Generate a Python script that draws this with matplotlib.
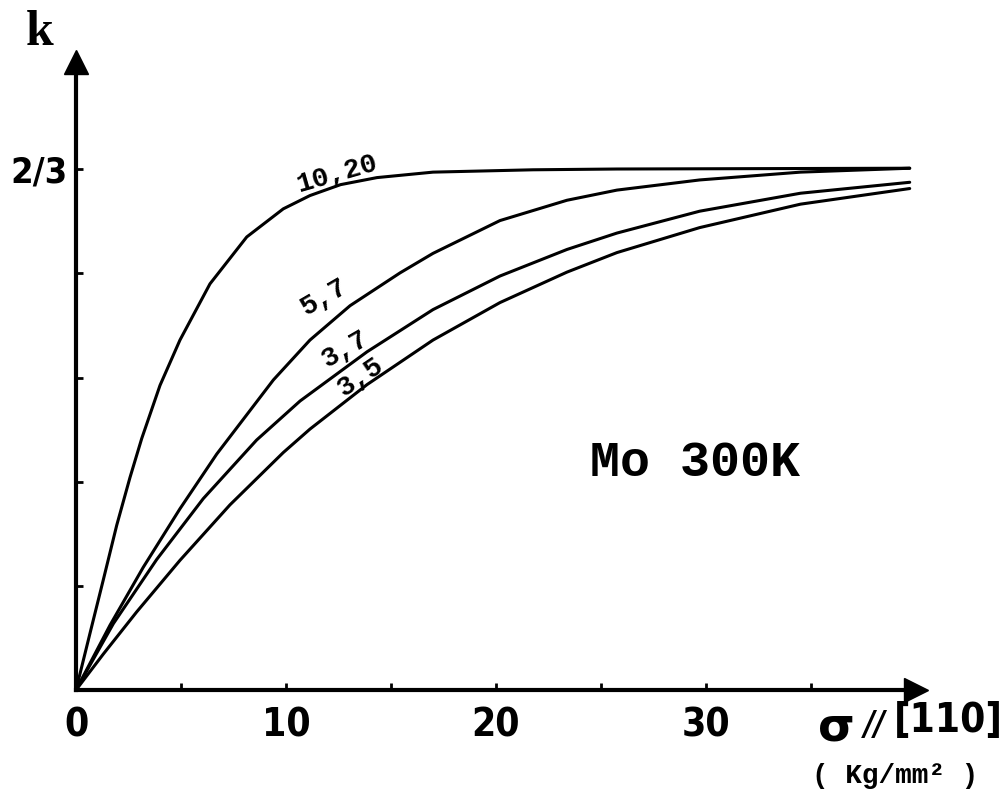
import matplotlib
matplotlib.use("Agg")
import matplotlib.pyplot as plt

# values (sigma in Kg/mm2, k)
sig_10_20 = [0, 0.67, 1.30, 1.94, 2.57, 3.13, 4.0, 4.95, 6.38, 8.13, 9.87, 11.14, 12.6, 14.33, 17.0, 21.76, 25.76, 39.7]
k_10_20 = [0, 0.073, 0.141, 0.211, 0.272, 0.322, 0.390, 0.448, 0.520, 0.580, 0.616, 0.633, 0.647, 0.656, 0.663, 0.666, 0.667, 0.668]

sig_5_7 = [0, 1.62, 3.20, 4.95, 6.70, 9.40, 11.14, 13.05, 15.43, 17.0, 20.19, 23.38, 25.76, 29.7, 34.5, 39.7]
k_5_7 = [0, 0.083, 0.157, 0.232, 0.302, 0.397, 0.448, 0.492, 0.534, 0.559, 0.601, 0.627, 0.640, 0.653, 0.663, 0.668]

sig_3_7 = [0, 1.78, 3.84, 6.06, 8.60, 10.67, 13.86, 17.0, 20.19, 23.38, 25.76, 29.7, 34.5, 39.7]
k_3_7 = [0, 0.085, 0.167, 0.245, 0.320, 0.370, 0.433, 0.487, 0.530, 0.564, 0.585, 0.613, 0.636, 0.650]

sig_3_5 = [0, 1.30, 2.89, 4.95, 7.33, 9.87, 11.14, 13.86, 17.0, 20.19, 23.38, 25.76, 29.7, 34.5, 39.7]
k_3_5 = [0, 0.046, 0.100, 0.166, 0.237, 0.304, 0.334, 0.391, 0.448, 0.496, 0.535, 0.560, 0.592, 0.622, 0.642]

xticks = [0, 5, 10, 15, 20, 25, 30, 35]
xlabels = ["0", "", "10", "", "20", "", "30", ""]
yticks = [2 / 15, 4 / 15, 6 / 15, 8 / 15, 2 / 3]
ylabels = ["", "", "", "", "2/3"]

W, H = 1006, 792
fig = plt.figure(figsize=(W / 100, H / 100), dpi=100)
ax = fig.add_axes([76 / W, 102 / H, 840 / W, 628 / H])

lw = 2.2
for s, k in [(sig_10_20, k_10_20), (sig_5_7, k_5_7), (sig_3_7, k_3_7), (sig_3_5, k_3_5)]:
    ax.plot(s, k, color="black", lw=lw, solid_joinstyle="round", solid_capstyle="round", clip_on=False)

ax.set_xlim(0, 40.0)
ax.set_ylim(0, 0.804)

for side in ["top", "right"]:
    ax.spines[side].set_visible(False)
for side in ["left", "bottom"]:
    ax.spines[side].set_linewidth(3)

# arrow heads
ax.plot(40.0, 0, marker=">", ms=17, color="black", clip_on=False)
ax.plot(0, 0.804, marker="^", ms=17, color="black", clip_on=False)

cond = dict(fontfamily="DejaVu Sans", fontstretch="condensed", fontweight="bold")
ax.set_xticks(xticks)
ax.set_xticklabels(xlabels, fontsize=28, **cond)
ax.set_yticks(yticks)
ax.set_yticklabels(ylabels, fontsize=26, **cond)
ax.tick_params(axis="x", direction="in", length=5, width=2, pad=12)
ax.tick_params(axis="y", direction="in", length=5, width=2, pad=6)

mono = ["Liberation Mono", "DejaVu Sans Mono"]
ax.text(12.4, 0.660, "10,20", rotation=16, fontfamily=mono, fontweight="bold", fontsize=20, ha="center", va="center")
ax.text(11.8, 0.503, "5,7", rotation=30, fontfamily=mono, fontweight="bold", fontsize=20, ha="center", va="center")
ax.text(12.85, 0.437, "3,7", rotation=30, fontfamily=mono, fontweight="bold", fontsize=20, ha="center", va="center")
ax.text(13.55, 0.400, "3,5", rotation=34, fontfamily=mono, fontweight="bold", fontsize=20, ha="center", va="center")
ax.text(29.5, 0.290, "Mo 300K", fontfamily=mono, fontweight="bold", fontsize=36, ha="center", va="center")

# axis titles
fig.text(40 / W, 1 - 33 / H, "k", fontfamily=["Liberation Serif", "DejaVu Serif"], fontweight="bold", fontsize=36,
         ha="center", va="center")
fig.text(818 / W, 1 - 728 / H, "σ", fontfamily="DejaVu Sans", fontweight="bold", fontsize=34, ha="left", va="center")
fig.text(864 / W, 1 - 725 / H, "//", fontsize=24, fontstyle="italic", ha="left", va="center", **cond)
fig.text(1003 / W, 1 - 721 / H, "[110]", fontsize=29, ha="right", va="center", **cond)
fig.text(895 / W, 1 - 776 / H, "( Kg/mm² )", fontfamily=mono, fontweight="bold", fontsize=20, ha="center", va="center")

fig.savefig("out.png", dpi=100, facecolor="white")
